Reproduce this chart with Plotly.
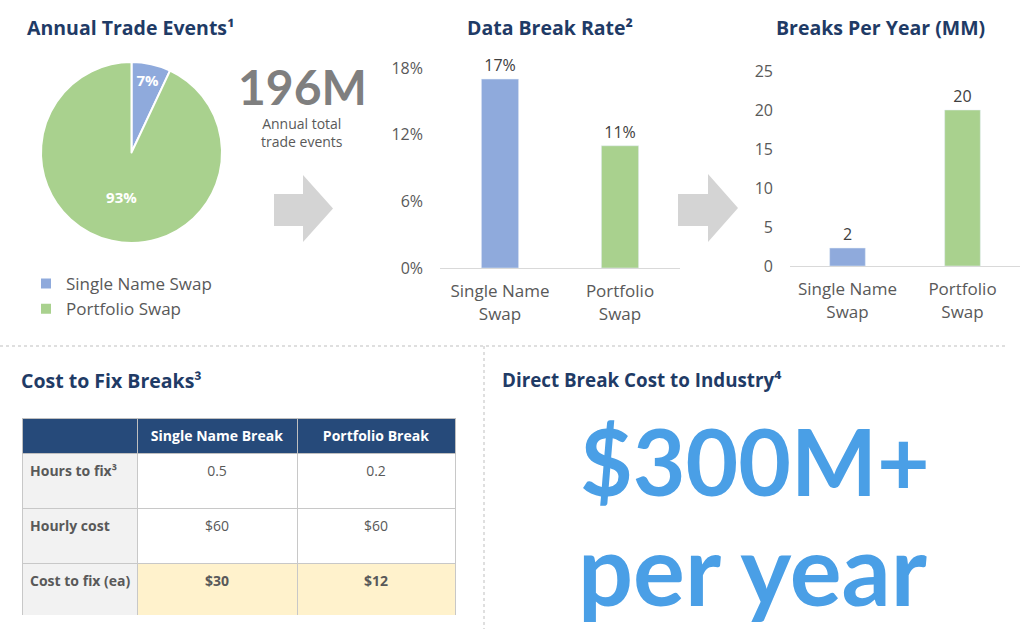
import plotly.graph_objects as go

W, H = 1024, 629
def px(x): return x / W
def py(y): return 1 - y / H

# ---------------- data ----------------
pie_labels = ["Single Name Swap", "Portfolio Swap"]
pie_values = [7, 93]
total_events = "196M"

rate_categories = ["Single Name<br>Swap", "Portfolio<br>Swap"]
rate_values = [17, 11]          # %
rate_ticks = [0, 6, 12, 18]

breaks_categories = ["Single Name<br>Swap", "Portfolio<br>Swap"]
breaks_values = [2.3, 20]       # MM
breaks_labels = ["2", "20"]
breaks_ticks = [0, 5, 10, 15, 20, 25]

table_header = ["", "Single Name Break", "Portfolio Break"]
table_rows = ["Hours to fix³", "Hourly cost", "Cost to fix (ea)"]
table_single = ["0.5", "$60", "$30"]
table_portfolio = ["0.2", "$60", "$12"]

industry_cost = "$300M+"
industry_period = "per year"

# ---------------- style ----------------
BLUE = "#8FAADC"
GREEN = "#A9D18E"
NAVY = "#1F3B66"
GRAY = "#595959"
FONT = "Open Sans"
BIG = "Lato"
NOWRAP = "<br>"   # a <br> in the text stops plotly's automatic cell wrapping

def cell(v, bold=False):
    return NOWRAP + (f"<b>{v}</b>" if bold else v)

fig = go.Figure()

fig.add_trace(go.Pie(
    labels=pie_labels, values=pie_values, sort=False, direction="clockwise",
    rotation=0, marker=dict(colors=[BLUE, GREEN], line=dict(color="white", width=2)),
    textinfo="percent", texttemplate="<b>%{percent:.0%}</b>", textposition="inside",
    insidetextorientation="horizontal",
    textfont=dict(color="white", size=15, family=FONT),
    domain=dict(x=[px(41), px(222)], y=[py(243), py(62)]),
    showlegend=True, hoverinfo="label+percent",
))

fig.add_trace(go.Bar(
    x=rate_categories, y=rate_values, marker=dict(color=[BLUE, GREEN]),
    text=[f"{v}%" for v in rate_values], textposition="outside",
    textfont=dict(size=16, color="#404040", family=FONT), cliponaxis=False,
    xaxis="x", yaxis="y", showlegend=False,
))

fig.add_trace(go.Bar(
    x=breaks_categories, y=breaks_values, marker=dict(color=[BLUE, GREEN]),
    text=breaks_labels, textposition="outside",
    textfont=dict(size=16, color="#404040", family=FONT), cliponaxis=False,
    xaxis="x2", yaxis="y2", showlegend=False,
))

fig.add_trace(go.Table(
    domain=dict(x=[px(22), px(455)], y=[py(615), py(418)]),
    columnwidth=[115, 160, 158],
    header=dict(values=[f"<b>{h}</b>" for h in table_header],
                fill_color="#264A7A", line=dict(color="#BFBFBF", width=1),
                font=dict(color="white", size=14, family=FONT), align="center", height=32),
    cells=dict(values=[[cell(r, True) for r in table_rows],
                       [cell(v) for v in table_single[:2]] + [cell(table_single[2], True)],
                       [cell(v) for v in table_portfolio[:2]] + [cell(table_portfolio[2], True)]],
               fill_color=[["#F2F2F2"] * 3, ["white", "white", "#FFF2CC"], ["white", "white", "#FFF2CC"]],
               line=dict(color="#C8C8C8", width=1),
               font=dict(color=GRAY, size=14, family=FONT),
               align=["left", "center", "center"], height=55),
))

axis_common = dict(showgrid=False, zeroline=False, fixedrange=True)
fig.update_layout(
    width=W, height=H, margin=dict(l=0, r=0, t=0, b=0, autoexpand=False),
    paper_bgcolor="white", plot_bgcolor="white",
    font=dict(family=FONT, color=GRAY),
    bargap=0.69,
    xaxis=dict(domain=[px(440), px(680)], showline=True, linecolor="#D9D9D9", linewidth=1,
               tickfont=dict(size=17, color=GRAY), ticks="", ticklabelstandoff=8, **axis_common),
    yaxis=dict(domain=[py(268), py(68)], range=[0, 18], tickmode="array", tickvals=rate_ticks,
               ticktext=[f"{t}%" for t in rate_ticks], tickfont=dict(size=16, color=GRAY),
               ticklabelstandoff=16, **axis_common),
    xaxis2=dict(domain=[px(790), px(1020)], anchor="y2", showline=True, linecolor="#D9D9D9",
                linewidth=1, tickfont=dict(size=17, color=GRAY), ticks="", ticklabelstandoff=8,
                **axis_common),
    yaxis2=dict(domain=[py(266), py(71)], anchor="x2", range=[0, 25], tickvals=breaks_ticks,
                tickfont=dict(size=16, color=GRAY), ticklabelstandoff=16, **axis_common),
    legend=dict(x=px(26), y=py(266), xanchor="left", yanchor="top",
                font=dict(size=17, color=GRAY, family=FONT), itemwidth=30,
                bgcolor="rgba(0,0,0,0)"),
)

def ann(text, x, y, size, color, xanchor="left", bold=True, family=FONT):
    fig.add_annotation(text=f"<b>{text}</b>" if bold else text, x=px(x), y=py(y),
                       xref="paper", yref="paper", xanchor=xanchor, yanchor="middle",
                       showarrow=False, font=dict(size=size, color=color, family=family))

ann("Annual Trade Events¹", 25, 28, 19.5, NAVY)
ann("Data Break Rate²", 550, 28, 19.5, NAVY, "center")
ann("Breaks Per Year (MM)", 880, 28, 19.5, NAVY, "center")
ann(total_events, 302, 86, 48, "#7F7F7F", "center", family=BIG)
ann("Annual total<br>trade events", 302, 132, 14, GRAY, "center", bold=False)
ann("Cost to Fix Breaks³", 19, 380, 19.5, NAVY)
ann("Direct Break Cost to Industry⁴", 500, 380, 18.8, NAVY)
ann(industry_cost, 755, 460, 91, "#4A9FE6", "center", family=BIG)
ann(industry_period, 752, 568, 97, "#4A9FE6", "center", family=BIG)

# arrows
def arrow(x0, xb, xt, y0, y1, ty0, ty1):
    ym = (ty0 + ty1) / 2
    pts = [(x0, y0), (xb, y0), (xb, ty0), (xt, ym), (xb, ty1), (xb, y1), (x0, y1)]
    path = "M " + " L ".join(f"{px(a)},{py(b)}" for a, b in pts) + " Z"
    fig.add_shape(type="path", path=path, xref="paper", yref="paper",
                  fillcolor="#D4D4D4", line=dict(width=0))

arrow(274, 303, 333, 194, 226, 175, 242)
arrow(678, 708, 738, 194, 226, 174, 242)

# dashed dividers
fig.add_shape(type="line", x0=0, x1=px(1005), y0=py(346), y1=py(346), xref="paper", yref="paper",
              line=dict(color="#BFBFBF", width=1, dash="3px,3px"))
fig.add_shape(type="line", x0=px(484), x1=px(484), y0=py(346), y1=0, xref="paper", yref="paper",
              line=dict(color="#BFBFBF", width=1, dash="3px,3px"))

fig.write_html("out.html")
